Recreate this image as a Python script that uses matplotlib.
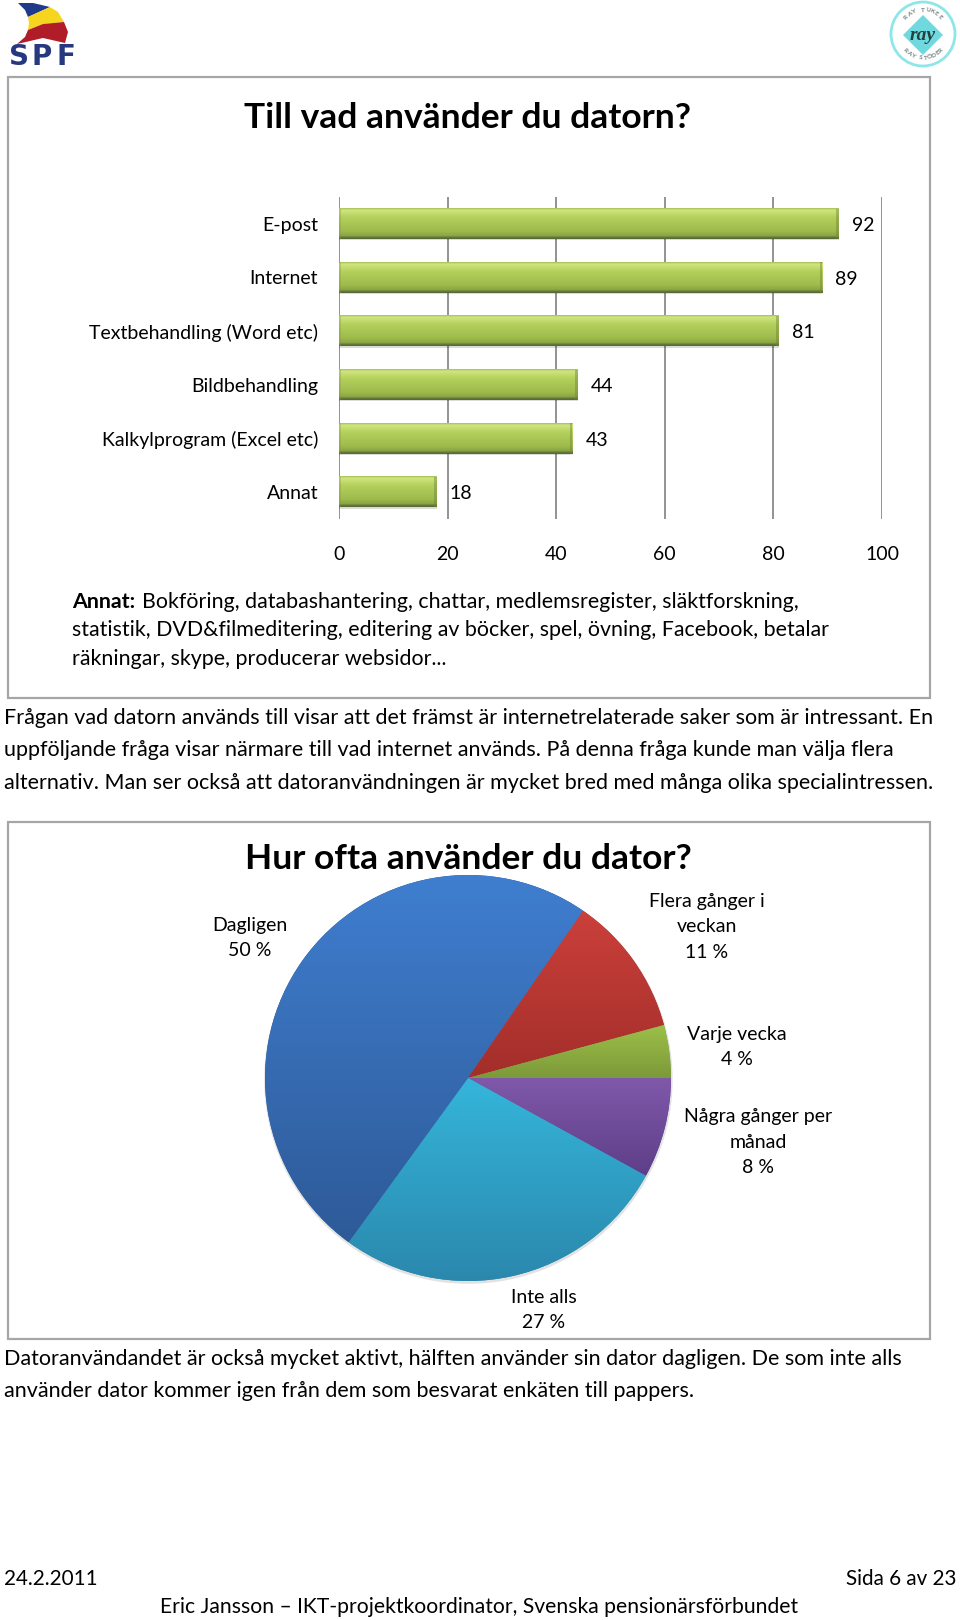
import numpy as np
import matplotlib
matplotlib.use('Agg')
import matplotlib.pyplot as plt
from matplotlib.colors import LinearSegmentedColormap
from matplotlib.patches import Rectangle, Polygon, Circle, RegularPolygon

plt.rcParams['font.family'] = ['Lato', 'DejaVu Sans']

# bar chart data
uses = ['E-post', 'Internet', 'Textbehandling (Word etc)', 'Bildbehandling',
        'Kalkylprogram (Excel etc)', 'Annat']
use_values = [92, 89, 81, 44, 43, 18]
x_ticks = [0, 20, 40, 60, 80, 100]

# pie chart data, clockwise from three o'clock (slice sizes)
freq_labels = ['Några gånger per\nmånad\n8 %', 'Inte alls\n27 %', 'Dagligen\n50 %',
               'Flera gånger i\nveckan\n11 %', 'Varje vecka\n4 %']
freq_values = [8, 27, 49.6, 11.2, 4.2]
freq_colors = [('#7f58aa', '#5e3f88'), ('#35b5da', '#2b88ad'), ('#3f7ecf', '#2e5a98'),
               ('#cb403b', '#a32e2a'), ('#9cbf49', '#7c9a39')]

W, H = 960, 1620
fig = plt.figure(figsize=(W / 100, H / 100), dpi=100, facecolor='white')


def px_axes(x0, y0, x1, y1):
    return fig.add_axes([x0 / W, 1 - y1 / H, (x1 - x0) / W, (y1 - y0) / H])


# overlay in pixel coordinates for page text and frames
page = fig.add_axes([0, 0, 1, 1], zorder=5)
page.set_xlim(0, W)
page.set_ylim(H, 0)
page.axis('off')
page.patch.set_alpha(0)

for y0, y1 in [(77, 698), (822, 1339)]:
    page.add_patch(Rectangle((7.5, y0), 922, y1 - y0, fill=False, ec='#a6a6a6', lw=1.6))

# bars
ax = px_axes(339, 197, 882, 519)
ax.set_xlim(0, 100)
ax.set_ylim(len(uses) - 0.5, -0.5)
ax.set_xticks(x_ticks)
ax.set_yticks(range(len(uses)))
ax.set_yticklabels(uses)
ax.tick_params(length=0, labelsize=14.0, colors='black')
ax.tick_params(axis='y', pad=15)
ax.tick_params(axis='x', pad=19.5)
for s in ax.spines.values():
    s.set_visible(False)
ax.grid(axis='x', color='#8a8a8a', lw=1.3)
ax.set_axisbelow(True)

bar_cmap = LinearSegmentedColormap.from_list('bar', [
    (0, '#a8c25c'), (0.06, '#d0e67e'), (0.3, '#b4d05c'), (0.75, '#9dba4c'),
    (0.9, '#8aa644'), (0.95, '#66793a'), (1, '#56663a')])
grad = np.linspace(0, 1, 64).reshape(-1, 1)
bars = ax.barh(range(len(uses)), use_values, height=0.56, color='#9dba4c', zorder=3)
ax.barh(np.arange(len(uses)) + 0.03, use_values, height=0.56, color='black', alpha=0.14, zorder=2)
for b, v in zip(bars, use_values):
    bb = b.get_bbox()
    ax.imshow(grad, cmap=bar_cmap, aspect='auto', zorder=3.1,
              extent=(bb.x0, bb.x1, bb.y1, bb.y0))
    # bevel on the bar ends
    edge = 0.45
    ax.fill_betweenx([bb.y0, bb.y1], bb.x0, bb.x0 + edge, color='#7f983f', alpha=0.35, lw=0, zorder=3.2)
    ax.fill_betweenx([bb.y0, bb.y1], bb.x1 - edge, bb.x1, color='#6f8639', alpha=0.45, lw=0, zorder=3.2)
    ax.text(v + 2.4, b.get_y() + b.get_height() / 2 + 0.03, str(v), va='center', ha='left',
            fontsize=14.0, zorder=4)
ax.set_xlim(0, 100)
ax.set_ylim(len(uses) - 0.5, -0.5)

# pie
cx, cy, r = 468, 1078, 203
margin = 1.06
pie = px_axes(cx - r * margin, cy - r * margin, cx + r * margin, cy + r * margin)
pie.add_patch(Circle((0.002, -0.008), 1.006, color='#a0a0a0', alpha=0.3, lw=0))
wedges, _ = pie.pie(freq_values, startangle=0, counterclock=False, radius=1)
for w, (c_top, c_bot) in zip(wedges, freq_colors):
    ext = w.get_path().get_extents(w.get_patch_transform())
    cm = LinearSegmentedColormap.from_list('w', [c_top, c_bot])
    w.set_facecolor(c_bot)
    im = pie.imshow(grad, cmap=cm, aspect='auto', zorder=2,
                    extent=(ext.x0, ext.x1, ext.y0, ext.y1))
    im.set_clip_path(w)
pie.set_xlim(-margin, margin)
pie.set_ylim(-margin, margin)
pie.axis('off')

# titles
page.text(467, 118, 'Till vad använder du datorn?', fontsize=25.5, fontweight='bold',
          ha='center', va='center')
page.text(468, 859, 'Hur ofta använder du dator?', fontsize=25.5, fontweight='bold',
          ha='center', va='center')

# pie labels, same order as the data
label_pos = [(758, 1142), (544, 1310), (250, 938), (707, 927), (737, 1047)]
for txt, (x, y) in zip(freq_labels, label_pos):
    page.text(x, y, txt, ha='center', va='center', fontsize=14.0, linespacing=1.6)

# notes
note_size = 15.4
page.text(72, 602, 'Annat:', fontsize=note_size, fontweight='bold', va='center')
page.text(142, 602, 'Bokföring, databashantering, chattar, medlemsregister, släktforskning,',
          fontsize=note_size, va='center')
page.text(72, 630, 'statistik, DVD&filmeditering, editering av böcker, spel, övning, Facebook, betalar',
          fontsize=note_size, va='center')
page.text(72, 659, 'räkningar, skype, producerar websidor...', fontsize=note_size, va='center')

body_size = 15.45
body = [
    (718, 'Frågan vad datorn används till visar att det främst är internetrelaterade saker som är intressant. En'),
    (750, 'uppföljande fråga visar närmare till vad internet används. På denna fråga kunde man välja flera'),
    (783, 'alternativ. Man ser också att datoranvändningen är mycket bred med många olika specialintressen.'),
    (1359, 'Datoranvändandet är också mycket aktivt, hälften använder sin dator dagligen. De som inte alls'),
    (1391, 'använder dator kommer igen från dem som besvarat enkäten till pappers.'),
]
for y, line in body:
    page.text(4, y, line, fontsize=body_size, va='center')

# footer
page.text(4, 1579, '24.2.2011', fontsize=14.9, va='center')
page.text(956, 1579, 'Sida 6 av 23', fontsize=14.9, va='center', ha='right')
page.text(479, 1607, 'Eric Jansson – IKT-projektkoordinator, Svenska pensionärsförbundet',
          fontsize=15.2, va='center', ha='center')

# logos
page.add_patch(Polygon([(18, 3), (33, 3), (50, 7), (28, 17), (25, 10)], color='#1f3a8a', lw=0))
page.add_patch(Polygon([(28, 17), (50, 7), (58, 12), (64, 22), (43, 24), (28, 30), (29, 23)],
                       color='#f5d51e', lw=0))
page.add_patch(Polygon([(28, 30), (43, 24), (64, 22), (68, 32), (65, 43), (43, 38), (17, 44), (25, 37)],
                       color='#b01c28', lw=0))
for ch, x in zip('SPF', [19, 42, 66]):
    page.text(x, 57, ch, fontsize=20, fontweight='bold', family='DejaVu Sans', color='#26387f',
              ha='center', va='center')

page.add_patch(Circle((923, 34), 32, fc='white', ec='#8fe6e8', lw=2))
page.add_patch(RegularPolygon((923, 35), 4, radius=20, fc='#6fd9de', lw=0))
page.text(923, 35, 'ray', fontsize=14, style='italic', fontweight='bold', family='Liberation Serif',
          color='#23413f', ha='center', va='center')
for word, a0, a1, top in [('RAY TUKEE', 135, 45, True), ('RAY STÖDER', 222, 318, False)]:
    for ch, a in zip(word, np.linspace(a0, a1, len(word))):
        t = np.radians(a)
        page.text(923 + 24 * np.cos(t), 34 - 24 * np.sin(t), ch, fontsize=4.6, color='#71807f',
                  fontweight='bold', ha='center', va='center',
                  rotation=a - 90 if top else a + 90)

fig.savefig('out.png', dpi=100)
